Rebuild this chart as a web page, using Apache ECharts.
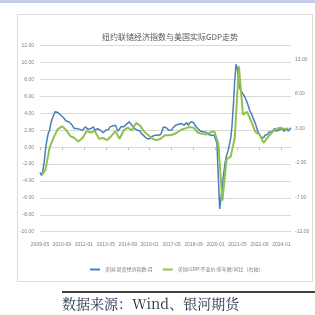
<!DOCTYPE html>
<html>
<head>
<meta charset="utf-8">
<script src="https://cdn.jsdelivr.net/npm/echarts@6/dist/echarts.min.js"></script>
<style>
html, body { margin: 0; padding: 0; background: #fff; }
#main { width: 315px; height: 315px; }
</style>
</head>
<body>
<div id="main"></div>
<script>
// 月度类目：2009-05 至 2024-08
var startYear = 2009, startMonth = 5, monthCount = 184;
var months = [];
for (var k = 0; k < monthCount; k++) {
    var m = startMonth - 1 + k;
    var y = startYear + Math.floor(m / 12);
    var mm = (m % 12) + 1;
    months.push(y + '-' + (mm < 10 ? '0' + mm : mm));
}

// 美国:周度经济指数:月（左轴）
var weiValues = [
    -3.0, -3.3, -2.9, -1.8, -0.3, 0.8, 1.6, 2.0,
    2.9, 3.4, 3.8, 4.2, 4.3, 4.1, 3.9, 3.8, 3.6, 3.5, 3.3, 3.1,
    3.3, 3.0, 2.8, 2.7, 2.5, 2.2, 2.1, 2.2, 2.0, 2.1, 1.9, 2.0,
    2.0, 2.4, 2.3, 2.1, 2.3, 2.2, 2.1, 2.4, 2.0, 1.8, 2.2, 2.3,
    2.0, 2.2, 1.7, 1.6, 2.0, 2.2, 2.1, 2.4, 2.2, 2.5, 2.4, 2.6,
    2.2, 1.9, 2.1, 2.4, 2.2, 2.4, 2.5, 2.7, 2.8, 3.0, 2.8, 2.6,
    2.4, 2.2, 2.3, 2.0, 1.8, 1.9, 1.6, 1.5, 1.3, 1.2, 1.0, 0.9,
    1.0, 1.2, 1.3, 1.1, 1.4, 1.5, 1.4, 1.6, 1.5, 1.9, 2.4, 2.2,
    2.3, 2.1, 2.0, 2.2, 2.0, 2.3, 2.5, 2.6, 2.4, 2.7, 2.6, 2.8,
    2.7, 2.6, 2.8, 2.9, 2.6, 2.8, 3.0, 2.8, 2.9, 2.6, 2.4, 2.2,
    2.0, 1.9, 2.0, 1.8, 1.7, 1.8, 1.6, 1.5, 1.6, 1.4, 1.5, 1.4,
    1.2, 0.5, -3.5, -7.3, -6.0, -4.5, -3.0, -1.8, -1.0, -0.5, 0.2, 1.0,
    2.5, 5.0, 8.0, 9.8, 9.2, 7.5, 6.8, 6.6, 6.3, 6.0, 5.7, 5.3,
    4.8, 4.3, 4.0, 3.6, 3.2, 2.8, 2.3, 1.8, 1.5, 1.2, 1.0, 1.1,
    1.4, 1.3, 1.5, 1.8, 2.0, 1.8, 2.0, 2.2, 1.9, 2.1, 2.0, 1.9,
    2.2, 2.1, 1.9, 2.0, 2.2, 1.9, 2.1, 2.3
];

// 美国:GDP:不变价:折年数:同比（右轴），季度值，自 2009-06 起每季末一个
var gdpQuarterly = [
    -3.9, -3.0, 0.2,
    1.7, 2.9, 3.3, 2.8,
    1.9, 1.6, 1.1, 1.6,
    2.6, 2.4, 2.6, 1.5,
    1.6, 1.3, 1.9, 2.6,
    1.5, 2.7, 3.1, 2.7,
    3.8, 3.4, 2.5, 2.0,
    1.5, 1.3, 1.5, 2.0,
    2.0, 2.1, 2.4, 2.8,
    3.0, 3.2, 3.1, 2.4,
    2.2, 2.1, 2.4, 2.6,
    0.8, -7.5, -1.5, -1.1,
    1.6, 12.0, 5.0, 5.4,
    4.0, 2.5, 2.1, 0.9,
    1.7, 2.4, 2.9, 3.1,
    2.9, 3.0
];
var gdpFirstIndex = 1; // 2009-06

var gdpValues = [];
for (var i = 0; i < monthCount; i++) gdpValues.push(null);
gdpQuarterly.forEach(function (v, q) { gdpValues[gdpFirstIndex + q * 3] = v; });

var seriesNames = ['美国:周度经济指数:月', '美国:GDP:不变价:折年数:同比（右轴）'];

var dom = document.getElementById('main');
var myChart = echarts.init(dom, null, { renderer: 'canvas' });

var smallFont = "'Liberation Sans', sans-serif";
var cjkFont = "'Noto Sans CJK SC', sans-serif";

var option = {
    animation: false,
    backgroundColor: '#fff',
    title: {
        text: '纽约联储经济指数与美国实际GDP走势',
        left: 165,
        top: 28,
        textAlign: 'center',
        textStyle: { fontSize: 8, fontWeight: 'normal', color: '#595959', fontFamily: cjkFont }
    },
    legend: {
        left: 85,
        top: 262,
        itemWidth: 10,
        itemHeight: 2,
        itemGap: 10,
        icon: 'rect',
        textStyle: { fontSize: 5, color: '#7f7f7f', fontFamily: cjkFont },
        data: seriesNames
    },
    grid: { left: 40, right: 24, top: 45.7, bottom: 83.3, containLabel: false },
    xAxis: [
        {
            type: 'category',
            data: months,
            boundaryGap: false,
            position: 'bottom',
            axisLine: { show: false },
            axisTick: { show: false },
            axisLabel: {
                interval: 15,
                fontSize: 5,
                color: '#7f7f7f',
                fontFamily: smallFont,
                margin: 10
            },
            splitLine: { show: false }
        },
        {
            type: 'category',
            data: months,
            boundaryGap: false,
            position: 'bottom',
            axisLine: { show: true, onZero: true, onZeroAxisIndex: 0, lineStyle: { color: '#d9d9d9', width: 1 } },
            axisTick: { show: true, interval: 15, length: 3, lineStyle: { color: '#bfbfbf' } },
            axisLabel: { show: false },
            splitLine: { show: false }
        }
    ],
    yAxis: [
        {
            type: 'value',
            min: -10,
            max: 12,
            interval: 2,
            axisLine: { show: false },
            axisTick: { show: false },
            axisLabel: {
                fontSize: 5,
                color: '#7f7f7f',
                fontFamily: smallFont,
                margin: 6,
                formatter: function (v) { return v.toFixed(2); }
            },
            splitLine: { lineStyle: { color: '#d9d9d9', width: 1 } }
        },
        {
            type: 'value',
            min: -12,
            max: 15,
            interval: 5,
            position: 'right',
            axisLine: { show: false },
            axisTick: { show: false },
            axisLabel: {
                fontSize: 5,
                color: '#7f7f7f',
                fontFamily: smallFont,
                margin: 4,
                showMaxLabel: false,
                formatter: function (v) { return v.toFixed(2); }
            },
            splitLine: { show: false }
        }
    ],
    series: [
        {
            name: seriesNames[0],
            type: 'line',
            data: weiValues,
            xAxisIndex: 0,
            yAxisIndex: 0,
            showSymbol: false,
            symbol: 'none',
            lineStyle: { color: '#4a7ebb', width: 1.5 },
            itemStyle: { color: '#4a7ebb' }
        },
        {
            name: seriesNames[1],
            type: 'line',
            data: gdpValues,
            xAxisIndex: 0,
            yAxisIndex: 1,
            connectNulls: true,
            showSymbol: false,
            symbol: 'none',
            lineStyle: { color: '#92c04f', width: 2 },
            itemStyle: { color: '#92c04f' }
        }
    ],
    graphic: [
        {
            type: 'rect',
            z: -10,
            shape: { x: 0, y: 0, width: 315, height: 3 },
            style: { fill: '#c7cbea' }
        },
        {
            type: 'rect',
            z: -10,
            shape: { x: 17.5, y: 14.5, width: 295, height: 267 },
            style: { fill: 'none', stroke: '#d9d9d9', lineWidth: 1 }
        },
        {
            type: 'line',
            shape: { x1: 62, y1: 292, x2: 315, y2: 292 },
            style: { stroke: '#000', lineWidth: 1.5 }
        },
        {
            type: 'text',
            left: 62,
            top: 297,
            style: {
                text: '数据来源：Wind、银河期货',
                fontSize: 14,
                fill: '#1f2a44',
                fontFamily: "'Noto Serif CJK SC', 'Noto Sans CJK SC', serif"
            }
        }
    ]
};

myChart.setOption(option);

window.addEventListener('resize', myChart.resize);
</script>
</body>
</html>
